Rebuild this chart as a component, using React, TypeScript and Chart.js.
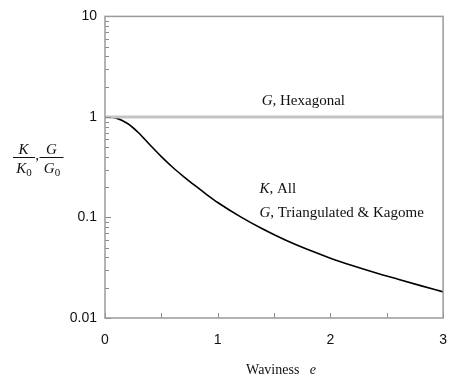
import React, { useEffect, useRef } from "react";
import { Chart, registerables } from "chart.js";

Chart.register(...registerables);

// Waviness e and normalised modulus K/K0 (also G/G0 for triangulated & Kagome lattices)
const waviness = [0, 0.1, 0.2, 0.3, 0.4, 0.5, 0.6, 0.7, 0.8, 0.9, 1.0, 1.2, 1.4, 1.6, 1.8, 2.0, 2.2, 2.4, 2.6, 2.8, 3.0];
const kRatio = [1.0, 0.973, 0.861, 0.692, 0.525, 0.403, 0.316, 0.254, 0.207, 0.17, 0.141, 0.102, 0.0767, 0.0596, 0.0479, 0.0394, 0.0331, 0.0282, 0.0243, 0.021, 0.0182];

// Hexagonal shear modulus stays at G/G0 = 1
const hexWaviness = [0, 3];
const hexRatio = [1, 1];

const yTickValues = [0.01, 0.1, 1, 10];
const xStep = 0.5;

const serif = '"Liberation Serif", "Times New Roman", serif';
const sans = '"Liberation Sans", Arial, sans-serif';

type Run = { text: string; italic?: boolean; size?: number; dy?: number };

function drawRuns(
  ctx: CanvasRenderingContext2D,
  runs: Run[],
  x: number,
  y: number,
  size: number,
  align: "left" | "center"
) {
  const fontOf = (r: Run) => `${r.italic ? "italic " : ""}${r.size ?? size}px ${serif}`;
  const widths = runs.map((r) => {
    ctx.font = fontOf(r);
    return ctx.measureText(r.text).width;
  });
  const total = widths.reduce((a, b) => a + b, 0);
  let cx = align === "center" ? x - total / 2 : x;
  ctx.textAlign = "left";
  ctx.textBaseline = "alphabetic";
  runs.forEach((r, i) => {
    ctx.font = fontOf(r);
    ctx.fillText(r.text, cx, y + (r.dy ?? 0));
    cx += widths[i];
  });
}

const decorPlugin = {
  id: "decor",
  afterDatasetsDraw(chart: any) {
    const { ctx, chartArea, scales } = chart;
    const xs = scales.x;
    const ys = scales.y;
    const { left, right, top, bottom } = chartArea;

    ctx.save();
    // inward tick marks
    ctx.strokeStyle = "#8c8c8c";
    ctx.lineWidth = 1;
    ctx.beginPath();
    for (let e = xs.min; e <= xs.max + 1e-9; e += xStep) {
      const px = Math.round(xs.getPixelForValue(e)) + 0.5;
      ctx.moveTo(px, bottom);
      ctx.lineTo(px, bottom - 5);
    }
    const lo = Math.floor(Math.log10(ys.min));
    const hi = Math.ceil(Math.log10(ys.max));
    for (let d = lo; d < hi; d++) {
      for (let m = 1; m < 10; m++) {
        const v = m * Math.pow(10, d);
        if (v < ys.min || v > ys.max) continue;
        const py = Math.round(ys.getPixelForValue(v)) + 0.5;
        ctx.moveTo(left, py);
        ctx.lineTo(left + (m === 1 ? 6 : 4), py);
      }
    }
    ctx.stroke();

    // frame
    ctx.strokeStyle = "#9a9a9a";
    ctx.lineWidth = 1.5;
    ctx.strokeRect(left, top, right - left, bottom - top);

    // series annotations
    ctx.fillStyle = "#111";
    drawRuns(
      ctx,
      [{ text: "G", italic: true }, { text: ", Hexagonal" }],
      xs.getPixelForValue(1.76),
      ys.getPixelForValue(1.3),
      15,
      "center"
    );
    drawRuns(
      ctx,
      [{ text: "K", italic: true }, { text: ", All" }],
      xs.getPixelForValue(1.37),
      ys.getPixelForValue(0.175),
      15,
      "left"
    );
    drawRuns(
      ctx,
      [{ text: "G", italic: true }, { text: ", Triangulated & Kagome" }],
      xs.getPixelForValue(1.37),
      ys.getPixelForValue(0.1),
      15,
      "left"
    );

    // x-axis title
    drawRuns(
      ctx,
      [{ text: "Waviness   " }, { text: "e", italic: true }],
      (left + right) / 2 + 7,
      374,
      14,
      "center"
    );

    // y-axis title: K/K0, G/G0
    const barY = Math.round(ys.getPixelForValue(0.4)) + 0.5;
    ctx.strokeStyle = "#111";
    ctx.lineWidth = 1;
    ctx.beginPath();
    ctx.moveTo(13, barY);
    ctx.lineTo(35, barY);
    ctx.moveTo(39.5, barY);
    ctx.lineTo(63.5, barY);
    ctx.stroke();
    drawRuns(ctx, [{ text: "K", italic: true }], 23.5, barY - 4, 15, "center");
    drawRuns(
      ctx,
      [{ text: "K", italic: true }, { text: "0", size: 11, dy: 3 }],
      24,
      barY + 15.5,
      15,
      "center"
    );
    drawRuns(ctx, [{ text: "," }], 37, barY + 2.5, 15, "center");
    drawRuns(ctx, [{ text: "G", italic: true }], 51.5, barY - 4, 15, "center");
    drawRuns(
      ctx,
      [{ text: "G", italic: true }, { text: "0", size: 11, dy: 3 }],
      52,
      barY + 15.5,
      15,
      "center"
    );
    ctx.restore();
  },
};

export default function App() {
  const canvasRef = useRef<HTMLCanvasElement | null>(null);

  useEffect(() => {
    if (!canvasRef.current) return;
    const chart = new Chart(canvasRef.current, {
      type: "line",
      data: {
        datasets: [
          {
            label: "G, Hexagonal",
            data: hexWaviness.map((e, i) => ({ x: e, y: hexRatio[i] })),
            borderColor: "#c4c4c4",
            borderWidth: 3,
            pointRadius: 0,
            order: 0,
          },
          {
            label: "K, All; G, Triangulated & Kagome",
            data: waviness.map((e, i) => ({ x: e, y: kRatio[i] })),
            borderColor: "#000",
            borderWidth: 1.6,
            pointRadius: 0,
            cubicInterpolationMode: "monotone",
            order: 1,
          },
        ],
      },
      options: {
        animation: false,
        responsive: false,
        events: [],
        layout: { padding: { left: 0, top: 13, right: 6, bottom: 0 } },
        plugins: {
          legend: { display: false },
          tooltip: { enabled: false },
        },
        scales: {
          x: {
            type: "linear",
            min: 0,
            max: 3,
            grid: { display: false, drawTicks: false },
            border: { display: false },
            ticks: {
              stepSize: xStep,
              autoSkip: false,
              maxRotation: 0,
              padding: 14,
              color: "#111",
              font: { family: sans, size: 14 },
              callback: (v: any) => (Number.isInteger(Number(v)) ? String(v) : ""),
            },
            afterFit: (s: any) => {
              s.height = 61;
            },
          },
          y: {
            type: "logarithmic",
            min: 0.01,
            max: 10,
            grid: { display: false, drawTicks: false },
            border: { display: false },
            afterBuildTicks: (s: any) => {
              s.ticks = yTickValues.map((v) => ({ value: v }));
            },
            ticks: {
              autoSkip: false,
              padding: 8,
              color: "#111",
              font: { family: sans, size: 14 },
              callback: (v: any) => String(v),
            },
            afterFit: (s: any) => {
              s.width = 105;
            },
          },
        },
      },
      plugins: [decorPlugin],
    });
    return () => chart.destroy();
  }, []);

  return (
    <canvas
      ref={canvasRef}
      width={461}
      height={379}
      style={{ position: "absolute", left: 0, top: 0, background: "#fff" }}
    />
  );
}
